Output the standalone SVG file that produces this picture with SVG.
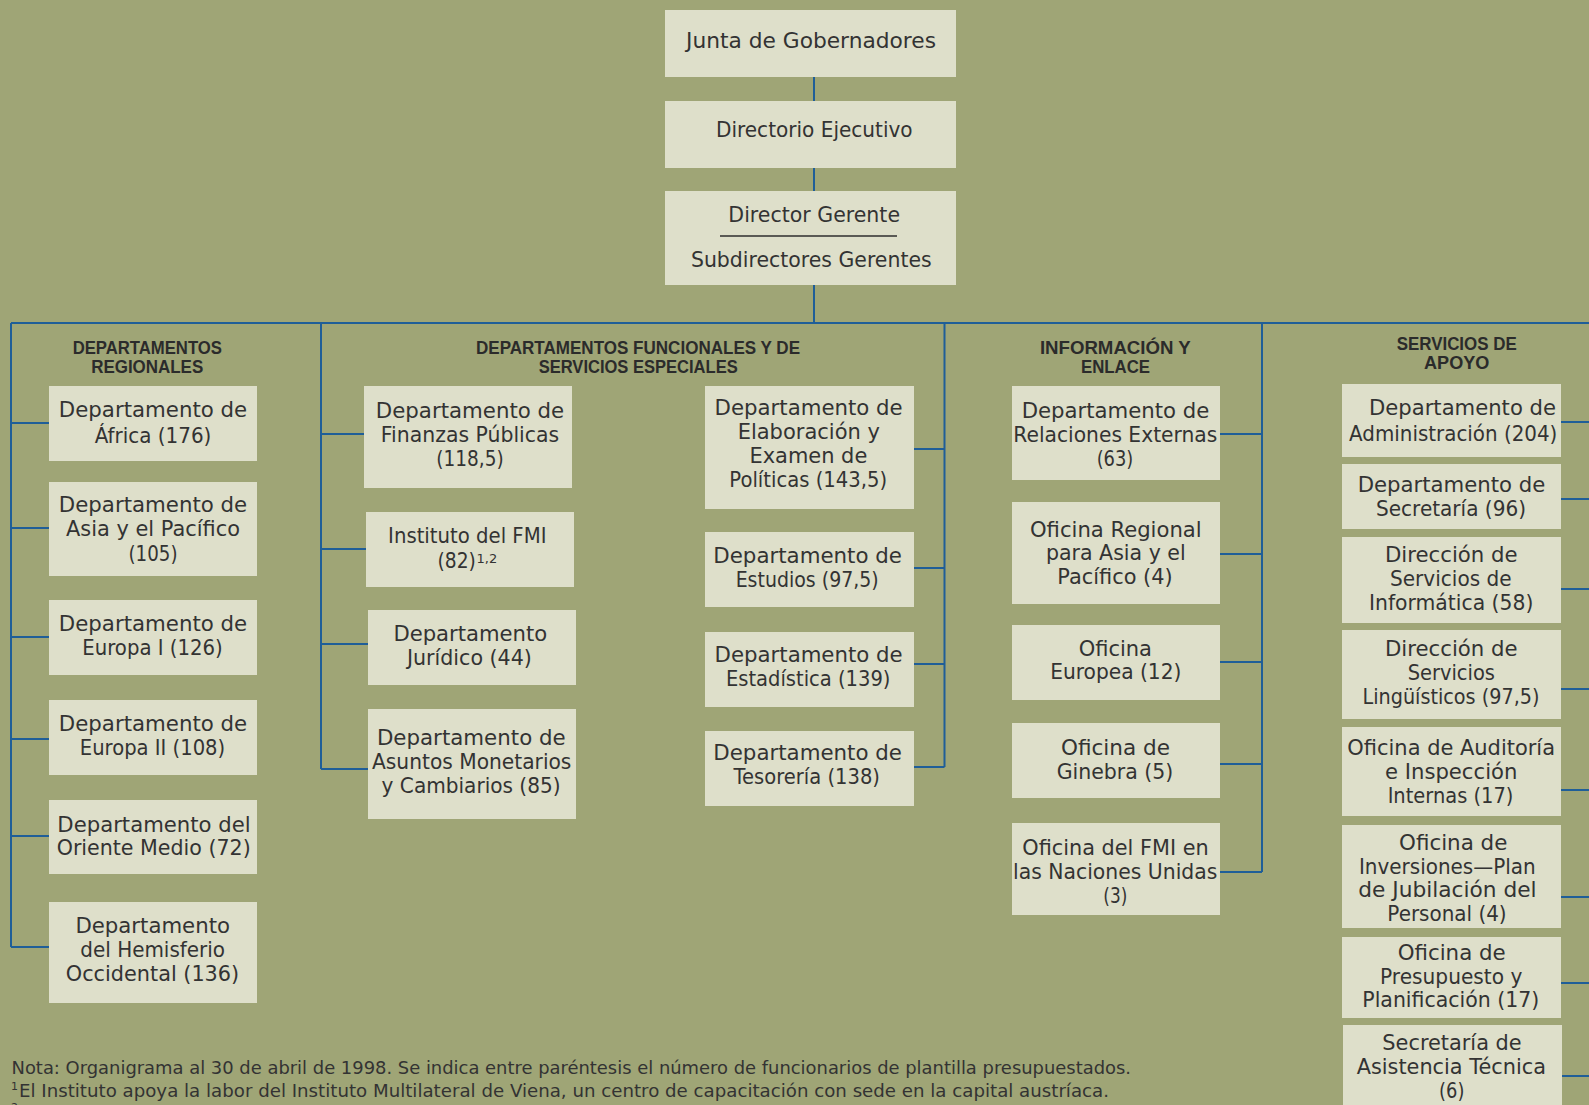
<svg xmlns="http://www.w3.org/2000/svg" width="1589" height="1105" viewBox="0 0 1589 1105">
<style>
.bx{fill:#dedfca}
.t{font-family:"DejaVu Sans","Liberation Sans",sans-serif;font-size:21px;fill:#333333;text-anchor:middle}
.h{font-family:"Liberation Sans",Arial,sans-serif;font-size:17.5px;font-weight:bold;fill:#2b2b2b;text-anchor:middle}
.fn{font-family:"DejaVu Sans","Liberation Sans",sans-serif;font-size:17px;fill:#333333}
.ln{stroke:#1f5e98;stroke-width:2;fill:none}
</style>
<rect x="0" y="0" width="1589" height="1105" fill="#9fa576"/>

<g id="connectors" class="ln">
<path d="M814 77V101M814 168V191M814 285V323"/>
<path d="M11 323H1589"/>
<path d="M11 323V947M11 423H49M11 528H49M11 637H49M11 739H49M11 836H49M11 947H49"/>
<path d="M321 323V769M321 434H364M321 549H366M321 644H368M321 769H368"/>
<path d="M944.5 323V767M914 449H944.5M914 568H944.5M914 664H944.5M914 767H944.5"/>
<path d="M1262 323V872M1220 434H1262M1220 554H1262M1220 662H1262M1220 764H1262M1220 872H1262"/>
<path d="M1561 422H1590M1561 499H1590M1561 589H1590M1561 689H1590M1561 790H1590M1561 897H1590M1561 983H1590M1562 1076H1590"/>
</g>

<g id="junta"><rect class="bx" x="665" y="10" width="291" height="67"/>
<text class="t" x="811" y="47.7" textLength="250" lengthAdjust="spacingAndGlyphs">Junta de Gobernadores</text></g>
<g id="directorio"><rect class="bx" x="665" y="101" width="291" height="67"/>
<text class="t" x="814.3" y="137" textLength="196.7" lengthAdjust="spacingAndGlyphs">Directorio Ejecutivo</text></g>
<g id="director"><rect class="bx" x="665" y="191" width="291" height="94"/>
<text class="t" x="814.2" y="222" textLength="171.7" lengthAdjust="spacingAndGlyphs">Director Gerente</text>
<line x1="720" y1="236" x2="897" y2="236" stroke="#2e2e2e" stroke-width="1.4"/>
<text class="t" x="811.3" y="266.7" textLength="240.7" lengthAdjust="spacingAndGlyphs">Subdirectores Gerentes</text></g>

<g id="hdr-regionales">
<text class="h" x="147.3" y="354" textLength="149.3" lengthAdjust="spacingAndGlyphs">DEPARTAMENTOS</text>
<text class="h" x="147.2" y="373" textLength="112.1" lengthAdjust="spacingAndGlyphs">REGIONALES</text></g>
<g id="hdr-funcionales">
<text class="h" x="638" y="354" textLength="324" lengthAdjust="spacingAndGlyphs">DEPARTAMENTOS FUNCIONALES Y DE</text>
<text class="h" x="638.2" y="373" textLength="199" lengthAdjust="spacingAndGlyphs">SERVICIOS ESPECIALES</text></g>
<g id="hdr-informacion">
<text class="h" x="1115.3" y="354" textLength="150.7" lengthAdjust="spacingAndGlyphs">INFORMACIÓN Y</text>
<text class="h" x="1115.5" y="373" textLength="69" lengthAdjust="spacingAndGlyphs">ENLACE</text></g>
<g id="hdr-apoyo">
<text class="h" x="1456.7" y="350" textLength="120" lengthAdjust="spacingAndGlyphs">SERVICIOS DE</text>
<text class="h" x="1456.7" y="369" textLength="65.3" lengthAdjust="spacingAndGlyphs">APOYO</text></g>

<g id="africa"><rect class="bx" x="49" y="386" width="208" height="75"/>
<text class="t" x="153" y="416.5" textLength="188.3" lengthAdjust="spacingAndGlyphs">Departamento de</text>
<text class="t" x="153" y="442.5" textLength="116.7" lengthAdjust="spacingAndGlyphs">África (176)</text></g>
<g id="asia"><rect class="bx" x="49" y="482" width="208" height="94"/>
<text class="t" x="153" y="511.5" textLength="188.3" lengthAdjust="spacingAndGlyphs">Departamento de</text>
<text class="t" x="153" y="536" textLength="174" lengthAdjust="spacingAndGlyphs">Asia y el Pacífico</text>
<text class="t" x="153" y="560.5" textLength="49" lengthAdjust="spacingAndGlyphs">(105)</text></g>
<g id="europa1"><rect class="bx" x="49" y="600" width="208" height="75"/>
<text class="t" x="153" y="630.5" textLength="188.3" lengthAdjust="spacingAndGlyphs">Departamento de</text>
<text class="t" x="152.5" y="654.5" textLength="140.5" lengthAdjust="spacingAndGlyphs">Europa I (126)</text></g>
<g id="europa2"><rect class="bx" x="49" y="700" width="208" height="75"/>
<text class="t" x="153" y="730.5" textLength="188.3" lengthAdjust="spacingAndGlyphs">Departamento de</text>
<text class="t" x="152.5" y="754.5" textLength="145.4" lengthAdjust="spacingAndGlyphs">Europa II (108)</text></g>
<g id="oriente"><rect class="bx" x="49" y="800" width="208" height="74"/>
<text class="t" x="154" y="831.5" textLength="193.3" lengthAdjust="spacingAndGlyphs">Departamento del</text>
<text class="t" x="153.7" y="854.5" textLength="194" lengthAdjust="spacingAndGlyphs">Oriente Medio (72)</text></g>
<g id="hemisferio"><rect class="bx" x="49" y="902" width="208" height="101"/>
<text class="t" x="152.7" y="932.5" textLength="154.6" lengthAdjust="spacingAndGlyphs">Departamento</text>
<text class="t" x="152.7" y="956.5" textLength="144.7" lengthAdjust="spacingAndGlyphs">del Hemisferio</text>
<text class="t" x="152.5" y="980.5" textLength="173.4" lengthAdjust="spacingAndGlyphs">Occidental (136)</text></g>

<g id="finanzas"><rect class="bx" x="364" y="386" width="208" height="102"/>
<text class="t" x="470" y="417.5" textLength="188.3" lengthAdjust="spacingAndGlyphs">Departamento de</text>
<text class="t" x="470" y="441.5" textLength="178.3" lengthAdjust="spacingAndGlyphs">Finanzas Públicas</text>
<text class="t" x="470" y="465.5" textLength="67.4" lengthAdjust="spacingAndGlyphs">(118,5)</text></g>
<g id="instituto"><rect class="bx" x="366" y="512" width="208" height="75"/>
<text class="t" x="467.3" y="543" textLength="158.4" lengthAdjust="spacingAndGlyphs">Instituto del FMI</text>
<text class="t" x="437.6" y="567.5" style="text-anchor:start" textLength="38.3" lengthAdjust="spacingAndGlyphs">(82)</text>
<text class="t" x="476.5" y="563" style="text-anchor:start;font-size:13px">1,2</text></g>
<g id="juridico"><rect class="bx" x="368" y="610" width="208" height="75"/>
<text class="t" x="470.3" y="640.5" textLength="153.8" lengthAdjust="spacingAndGlyphs">Departamento</text>
<text class="t" x="469.4" y="664.5" textLength="125" lengthAdjust="spacingAndGlyphs">Jurídico (44)</text></g>
<g id="asuntos"><rect class="bx" x="368" y="709" width="208" height="110"/>
<text class="t" x="471.3" y="744.5" textLength="188.7" lengthAdjust="spacingAndGlyphs">Departamento de</text>
<text class="t" x="471.7" y="768.5" textLength="199.4" lengthAdjust="spacingAndGlyphs">Asuntos Monetarios</text>
<text class="t" x="471.1" y="792.5" textLength="179" lengthAdjust="spacingAndGlyphs">y Cambiarios (85)</text></g>

<g id="elaboracion"><rect class="bx" x="705" y="386" width="209" height="123"/>
<text class="t" x="808.6" y="414.5" textLength="188.1" lengthAdjust="spacingAndGlyphs">Departamento de</text>
<text class="t" x="808.8" y="438.5" textLength="142.3" lengthAdjust="spacingAndGlyphs">Elaboración y</text>
<text class="t" x="808.4" y="462.5" textLength="117.8" lengthAdjust="spacingAndGlyphs">Examen de</text>
<text class="t" x="808.2" y="486.5" textLength="157.8" lengthAdjust="spacingAndGlyphs">Políticas (143,5)</text></g>
<g id="estudios"><rect class="bx" x="705" y="532" width="209" height="75"/>
<text class="t" x="807.6" y="562.5" textLength="188.6" lengthAdjust="spacingAndGlyphs">Departamento de</text>
<text class="t" x="807.2" y="586.5" textLength="143.1" lengthAdjust="spacingAndGlyphs">Estudios (97,5)</text></g>
<g id="estadistica"><rect class="bx" x="705" y="632" width="209" height="75"/>
<text class="t" x="808.6" y="661.5" textLength="188" lengthAdjust="spacingAndGlyphs">Departamento de</text>
<text class="t" x="808.2" y="685.5" textLength="164.6" lengthAdjust="spacingAndGlyphs">Estadística (139)</text></g>
<g id="tesoreria"><rect class="bx" x="705" y="731" width="209" height="75"/>
<text class="t" x="807.6" y="759.5" textLength="188.6" lengthAdjust="spacingAndGlyphs">Departamento de</text>
<text class="t" x="806.7" y="783.5" textLength="146.5" lengthAdjust="spacingAndGlyphs">Tesorería (138)</text></g>

<g id="relaciones"><rect class="bx" x="1012" y="386" width="208" height="94"/>
<text class="t" x="1115.5" y="417.5" textLength="187.7" lengthAdjust="spacingAndGlyphs">Departamento de</text>
<text class="t" x="1115.3" y="441.5" textLength="204" lengthAdjust="spacingAndGlyphs">Relaciones Externas</text>
<text class="t" x="1115" y="465.5" textLength="36.7" lengthAdjust="spacingAndGlyphs">(63)</text></g>
<g id="regional-asia"><rect class="bx" x="1012" y="502" width="208" height="102"/>
<text class="t" x="1115.8" y="536.5" textLength="171.7" lengthAdjust="spacingAndGlyphs">Oficina Regional</text>
<text class="t" x="1115.8" y="560" textLength="139.7" lengthAdjust="spacingAndGlyphs">para Asia y el</text>
<text class="t" x="1115" y="583.5" textLength="115.3" lengthAdjust="spacingAndGlyphs">Pacífico (4)</text></g>
<g id="europea"><rect class="bx" x="1012" y="625" width="208" height="75"/>
<text class="t" x="1115.3" y="655.5" textLength="73.3" lengthAdjust="spacingAndGlyphs">Oficina</text>
<text class="t" x="1115.8" y="678.5" textLength="131.3" lengthAdjust="spacingAndGlyphs">Europea (12)</text></g>
<g id="ginebra"><rect class="bx" x="1012" y="723" width="208" height="75"/>
<text class="t" x="1115.5" y="754.5" textLength="109" lengthAdjust="spacingAndGlyphs">Oficina de</text>
<text class="t" x="1115" y="778.5" textLength="116.7" lengthAdjust="spacingAndGlyphs">Ginebra (5)</text></g>
<g id="naciones-unidas"><rect class="bx" x="1012" y="823" width="208" height="92"/>
<text class="t" x="1115.5" y="854.5" textLength="186.3" lengthAdjust="spacingAndGlyphs">Oficina del FMI en</text>
<text class="t" x="1115.2" y="878.5" textLength="204.3" lengthAdjust="spacingAndGlyphs">las Naciones Unidas</text>
<text class="t" x="1115.3" y="902.5" textLength="24" lengthAdjust="spacingAndGlyphs">(3)</text></g>

<g id="administracion"><rect class="bx" x="1342" y="384" width="219" height="73"/>
<text class="t" x="1462.5" y="414.5" textLength="187" lengthAdjust="spacingAndGlyphs">Departamento de</text>
<text class="t" x="1453.2" y="440.5" textLength="208.3" lengthAdjust="spacingAndGlyphs">Administración (204)</text></g>
<g id="secretaria"><rect class="bx" x="1342" y="464" width="219" height="65"/>
<text class="t" x="1451.5" y="491.5" textLength="187.7" lengthAdjust="spacingAndGlyphs">Departamento de</text>
<text class="t" x="1451" y="515.5" textLength="150" lengthAdjust="spacingAndGlyphs">Secretaría (96)</text></g>
<g id="informatica"><rect class="bx" x="1342" y="537" width="219" height="86"/>
<text class="t" x="1451.3" y="561.5" textLength="132.7" lengthAdjust="spacingAndGlyphs">Dirección de</text>
<text class="t" x="1450.8" y="585.5" textLength="121.7" lengthAdjust="spacingAndGlyphs">Servicios de</text>
<text class="t" x="1451.2" y="609.5" textLength="164.3" lengthAdjust="spacingAndGlyphs">Informática (58)</text></g>
<g id="linguisticos"><rect class="bx" x="1342" y="630" width="219" height="89"/>
<text class="t" x="1451.3" y="655.5" textLength="132.7" lengthAdjust="spacingAndGlyphs">Dirección de</text>
<text class="t" x="1451.3" y="679.5" textLength="87.3" lengthAdjust="spacingAndGlyphs">Servicios</text>
<text class="t" x="1451" y="703.5" textLength="177" lengthAdjust="spacingAndGlyphs">Lingüísticos (97,5)</text></g>
<g id="auditoria"><rect class="bx" x="1342" y="727" width="219" height="89"/>
<text class="t" x="1451.2" y="754.5" textLength="207.7" lengthAdjust="spacingAndGlyphs">Oficina de Auditoría</text>
<text class="t" x="1451.2" y="778.5" textLength="132.3" lengthAdjust="spacingAndGlyphs">e Inspección</text>
<text class="t" x="1450.5" y="802.5" textLength="125.7" lengthAdjust="spacingAndGlyphs">Internas (17)</text></g>
<g id="inversiones"><rect class="bx" x="1342" y="825" width="219" height="103"/>
<text class="t" x="1453.2" y="849.5" textLength="108.3" lengthAdjust="spacingAndGlyphs">Oficina de</text>
<text class="t" x="1447.3" y="873.5" textLength="176.7" lengthAdjust="spacingAndGlyphs">Inversiones—Plan</text>
<text class="t" x="1447.5" y="896.5" textLength="178.3" lengthAdjust="spacingAndGlyphs">de Jubilación del</text>
<text class="t" x="1447" y="920.5" textLength="119.3" lengthAdjust="spacingAndGlyphs">Personal (4)</text></g>
<g id="presupuesto"><rect class="bx" x="1342" y="937" width="219" height="81"/>
<text class="t" x="1451.7" y="959.5" textLength="108" lengthAdjust="spacingAndGlyphs">Oficina de</text>
<text class="t" x="1451.2" y="983.5" textLength="142.3" lengthAdjust="spacingAndGlyphs">Presupuesto y</text>
<text class="t" x="1450.8" y="1006.5" textLength="177" lengthAdjust="spacingAndGlyphs">Planificación (17)</text></g>
<g id="asistencia-tecnica"><rect class="bx" x="1343" y="1025" width="219" height="90"/>
<text class="t" x="1452" y="1049.5" textLength="139.3" lengthAdjust="spacingAndGlyphs">Secretaría de</text>
<text class="t" x="1451.3" y="1073.5" textLength="189.3" lengthAdjust="spacingAndGlyphs">Asistencia Técnica</text>
<text class="t" x="1451.7" y="1097.5" textLength="25.3" lengthAdjust="spacingAndGlyphs">(6)</text></g>

<g id="notes">
<text class="fn" x="11.5" y="1074" textLength="1119.5" lengthAdjust="spacingAndGlyphs">Nota: Organigrama al 30 de abril de 1998. Se indica entre paréntesis el número de funcionarios de plantilla presupuestados.</text>
<text class="fn" x="11" y="1090" style="font-size:11px">1</text>
<text class="fn" x="19" y="1097" textLength="1090" lengthAdjust="spacingAndGlyphs">El Instituto apoya la labor del Instituto Multilateral de Viena, un centro de capacitación con sede en la capital austríaca.</text>
<text class="fn" x="11" y="1111" style="font-size:11px">2</text>
</g>
</svg>
